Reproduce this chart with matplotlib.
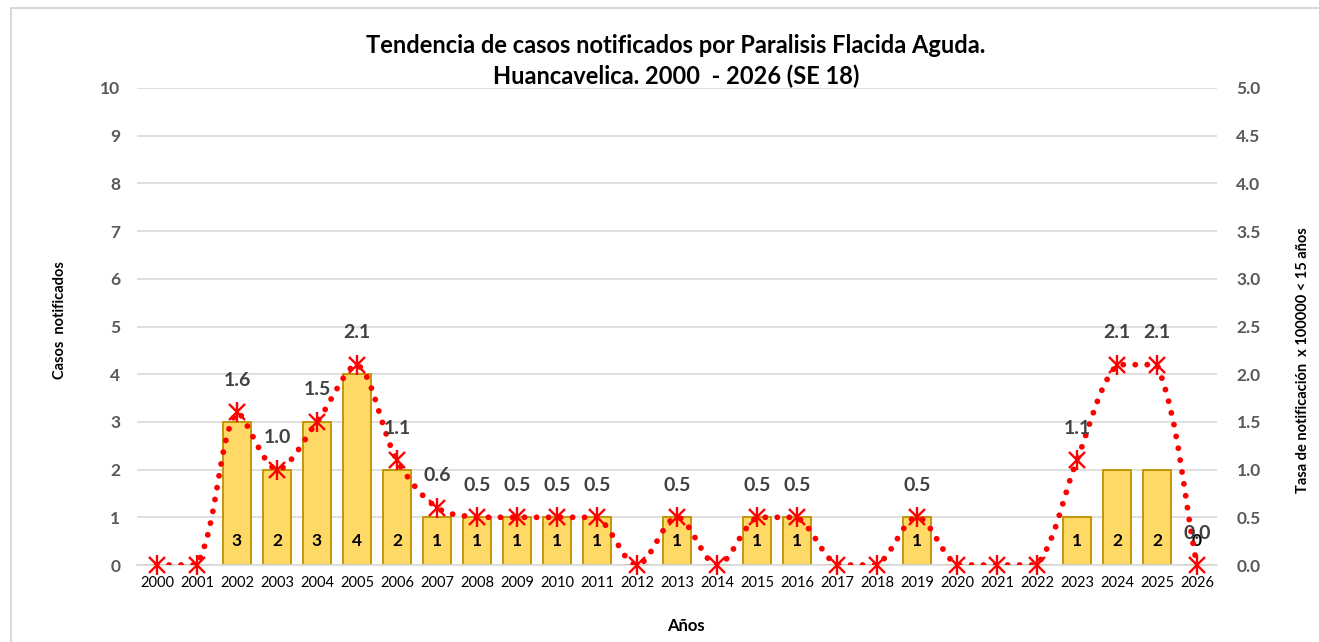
import numpy as np
import matplotlib
matplotlib.use("Agg")
import matplotlib.pyplot as plt
from matplotlib.path import Path
from matplotlib.patches import PathPatch, Rectangle

plt.rcParams['font.family'] = ['Lato', 'DejaVu Sans']

years = [str(y) for y in range(2000, 2027)]
casos = [0, 0, 3, 2, 3, 4, 2, 1, 1, 1, 1, 1, 0, 1, 0, 1, 1, 0, 0, 1, 0, 0, 0, 1, 2, 2, 0]
tasa = [0, 0, 1.6, 1.0, 1.5, 2.1, 1.1, 0.6, 0.5, 0.5, 0.5, 0.5, 0, 0.5, 0, 0.5, 0.5,
        0, 0, 0.5, 0, 0, 0, 1.1, 2.1, 2.1, 0.0]
# which years carry a printed label
casos_lbl = [c > 0 for c in casos]
casos_lbl[-1] = True
tasa_lbl = [t > 0 for t in tasa]
tasa_lbl[-1] = True

title = "Tendencia de casos notificados por Paralisis Flacida Aguda.\nHuancavelica. 2000  - 2026 (SE 18)"

GRID = "#D9D9D9"
TICK = "#595959"


def smooth_path(ax, xs, ys):
    # cubic Bezier through the points, tangents weighted by segment length on screen;
    # control points are kept inside each segment's y range so it never overshoots
    pts = np.column_stack([xs, ys]).astype(float)
    scr = ax.transData.transform(pts)
    n = len(pts)
    verts = [pts[0]]
    codes = [Path.MOVETO]
    for i in range(n - 1):
        i0, i3 = max(i - 1, 0), min(i + 2, n - 1)
        p0, p1, p2, p3 = scr[i0], scr[i], scr[i + 1], scr[i3]
        l01 = np.hypot(*(p1 - p0))
        l12 = np.hypot(*(p2 - p1))
        l23 = np.hypot(*(p3 - p2))
        c1 = p1 + (p2 - p0) / 3.0 * l12 / (l01 + l12)
        c2 = p2 - (p3 - p1) / 3.0 * l12 / (l12 + l23)
        lo, hi = min(p1[1], p2[1]), max(p1[1], p2[1])
        c1[1] = np.clip(c1[1], lo, hi)
        c2[1] = np.clip(c2[1], lo, hi)
        c1, c2 = ax.transData.inverted().transform(np.array([c1, c2]))
        verts += [c1, c2, pts[i + 1]]
        codes += [Path.CURVE4] * 3
    return Path(verts, codes)


fig = plt.figure(figsize=(13.19, 6.42), dpi=100)
fig.patches.append(Rectangle((11 / 1319, -0.1), 1.2, 1.1 - 8 / 642, transform=fig.transFigure,
                             fill=False, edgecolor="#D9D9D9", linewidth=1.5))

ax = fig.add_axes([137 / 1319, 1 - 565 / 642, 1080 / 1319, 477 / 642])
x = np.arange(len(years))

ax.bar(x, casos, width=0.72, color="#FFD966", edgecolor="#BF9000", linewidth=1.3, zorder=2)
for xi, c, show in zip(x, casos, casos_lbl):
    if show:
        ax.annotate(str(c), (xi, 0), xytext=(0, 17), textcoords="offset points",
                    ha="center", va="center", fontsize=12.5, fontweight="bold", color="black", zorder=5)

ax.set_xlim(-0.5, len(years) - 0.5)
ax.set_ylim(0, 10)
ax.set_yticks(range(0, 11))
ax.set_xticks(x)
ax.set_xticklabels(years)
ax.grid(axis="y", color=GRID, linewidth=1.2, zorder=0)
ax.set_axisbelow(True)
for s in ["top", "left", "right"]:
    ax.spines[s].set_visible(False)
ax.spines["bottom"].set_color(GRID)
ax.spines["bottom"].set_linewidth(1.2)
ax.tick_params(axis="y", length=0, pad=12, labelsize=12.5, labelcolor=TICK)
ax.tick_params(axis="x", length=0, pad=8, labelsize=10.5, labelcolor="black")
for lbl in ax.get_yticklabels():
    lbl.set_fontweight("bold")

ax2 = ax.twinx()
ax2.set_ylim(0, 5)
ax2.set_yticks(np.arange(0, 5.01, 0.5))
ax2.set_yticklabels([f"{v:.1f}" for v in np.arange(0, 5.01, 0.5)])
for s in ["top", "left", "right", "bottom"]:
    ax2.spines[s].set_visible(False)
ax2.tick_params(axis="y", length=0, pad=14, labelsize=12.5, labelcolor=TICK)
for lbl in ax2.get_yticklabels():
    lbl.set_fontweight("bold")

curve = PathPatch(smooth_path(ax2, x, tasa), fill=False, edgecolor="#FF0000", linewidth=4.2,
                  linestyle=(0, (0.01, 2.05)), capstyle="round", zorder=3)
ax2.add_patch(curve)
ax2.plot(x, tasa, linestyle="none", marker="x", markersize=12, markeredgewidth=1.7,
         color="#FF0000", zorder=4, clip_on=False)
ax2.plot(x, tasa, linestyle="none", marker="|", markersize=15, markeredgewidth=1.7,
         color="#FF0000", zorder=4, clip_on=False)
for xi, t, show in zip(x, tasa, tasa_lbl):
    if show:
        ax2.annotate(f"{t:.1f}", (xi, t), xytext=(0, 23), textcoords="offset points",
                     ha="center", va="center", fontsize=14, fontweight="bold", color="#404040", zorder=5)

fig.text(676 / 1319, 1 - 61 / 642, title, ha="center", va="center", fontsize=17,
         fontweight="bold", linespacing=1.35)
fig.text(60 / 1319, 1 - 320 / 642, "Casos  notificados", rotation=90, ha="center", va="center",
         fontsize=10.5, fontweight="bold")
fig.text(1303 / 1319, 1 - 360 / 642, "Tasa de notificación  x 100000 < 15 años", rotation=90,
         ha="center", va="center", fontsize=10.5, fontweight="bold")
fig.text(686 / 1319, 1 - 626 / 642, "Años", ha="center", va="center", fontsize=12, fontweight="bold")

fig.savefig("out.png", dpi=100)
